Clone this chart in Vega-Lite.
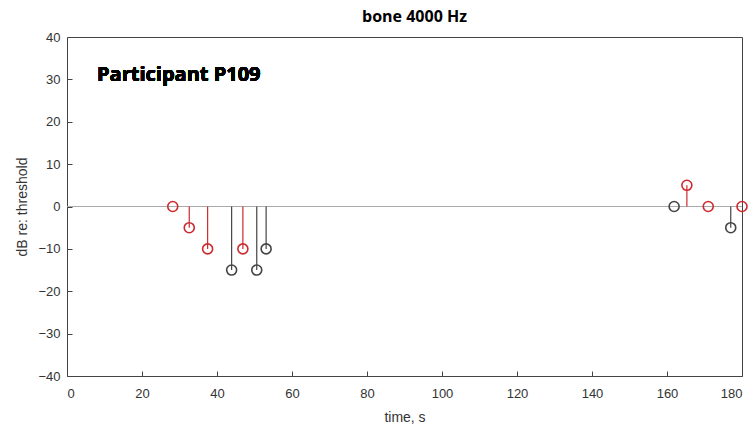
{
  "$schema": "https://vega.github.io/schema/vega-lite/v6.json",
  "autosize": "none",
  "width": 675,
  "height": 339,
  "padding": {"left": 67, "top": 37, "right": 12, "bottom": 54},
  "background": "white",
  "title": {
    "text": "bone 4000 Hz",
    "font": "Open Sans",
    "fontSize": 16,
    "fontWeight": "bold",
    "color": "black",
    "anchor": "middle",
    "dx": 10,
    "offset": 6
  },
  "config": {
    "view": {"stroke": "#444", "strokeWidth": 1},
    "axis": {
      "grid": false,
      "domain": false,
      "tickColor": "#444",
      "tickSize": -5,
      "labelFont": "Liberation Sans",
      "labelFontSize": 13,
      "labelColor": "#333",
      "titleFont": "Liberation Sans",
      "titleFontSize": 14,
      "titleFontWeight": "normal",
      "titleColor": "#333"
    }
  },
  "data": {
    "values": [
      {"t": 28.2, "v": 0, "marker": "A"},
      {"t": 32.6, "v": -5, "marker": "A"},
      {"t": 37.5, "v": -10, "marker": "A"},
      {"t": 43.9, "v": -15, "marker": "B"},
      {"t": 46.9, "v": -10, "marker": "A"},
      {"t": 50.6, "v": -15, "marker": "B"},
      {"t": 53.1, "v": -10, "marker": "B"},
      {"t": 161.9, "v": 0, "marker": "B"},
      {"t": 165.3, "v": 5, "marker": "A"},
      {"t": 171.0, "v": 0, "marker": "A"},
      {"t": 177.0, "v": -5, "marker": "B"},
      {"t": 180.0, "v": 0, "marker": "A"}
    ]
  },
  "layer": [
    {
      "mark": {"type": "rule", "color": "#aaa", "strokeWidth": 1.2},
      "encoding": {"y": {"datum": 0, "type": "quantitative", "scale": {"domain": [-40, 40]}}}
    },
    {
      "mark": {"type": "rule", "strokeWidth": 1.2},
      "encoding": {
        "x": {"field": "t", "type": "quantitative"},
        "y": {"field": "v", "type": "quantitative"},
        "y2": {"datum": 0},
        "color": {"field": "marker", "type": "nominal", "scale": {"domain": ["A", "B"], "range": ["#cc2a2f", "#444444"]}, "legend": null}
      }
    },
    {
      "mark": {"type": "point", "shape": "circle", "filled": false, "size": 100, "strokeWidth": 1.6, "opacity": 1},
      "encoding": {
        "x": {
          "field": "t",
          "type": "quantitative",
          "title": "time, s",
          "scale": {"domain": [0, 180], "nice": false},
          "axis": {"values": [0, 20, 40, 60, 80, 100, 120, 140, 160, 180], "labelPadding": 16, "titlePadding": 10}
        },
        "y": {
          "field": "v",
          "type": "quantitative",
          "title": "dB re: threshold",
          "scale": {"domain": [-40, 40], "nice": false},
          "axis": {"values": [-40, -30, -20, -10, 0, 10, 20, 30, 40], "labelPadding": 12, "titlePadding": 8}
        },
        "color": {"field": "marker", "type": "nominal", "scale": {"domain": ["A", "B"], "range": ["#cc2a2f", "#444444"]}, "legend": null}
      }
    },
    {
      "mark": {"type": "text", "text": "Participant P109", "font": "Open Sans", "fontSize": 20, "fontWeight": "bold", "align": "left", "baseline": "middle", "color": "black"},
      "encoding": {
        "x": {"datum": 8, "type": "quantitative"},
        "y": {"datum": 31, "type": "quantitative"}
      }
    }
  ]
}
